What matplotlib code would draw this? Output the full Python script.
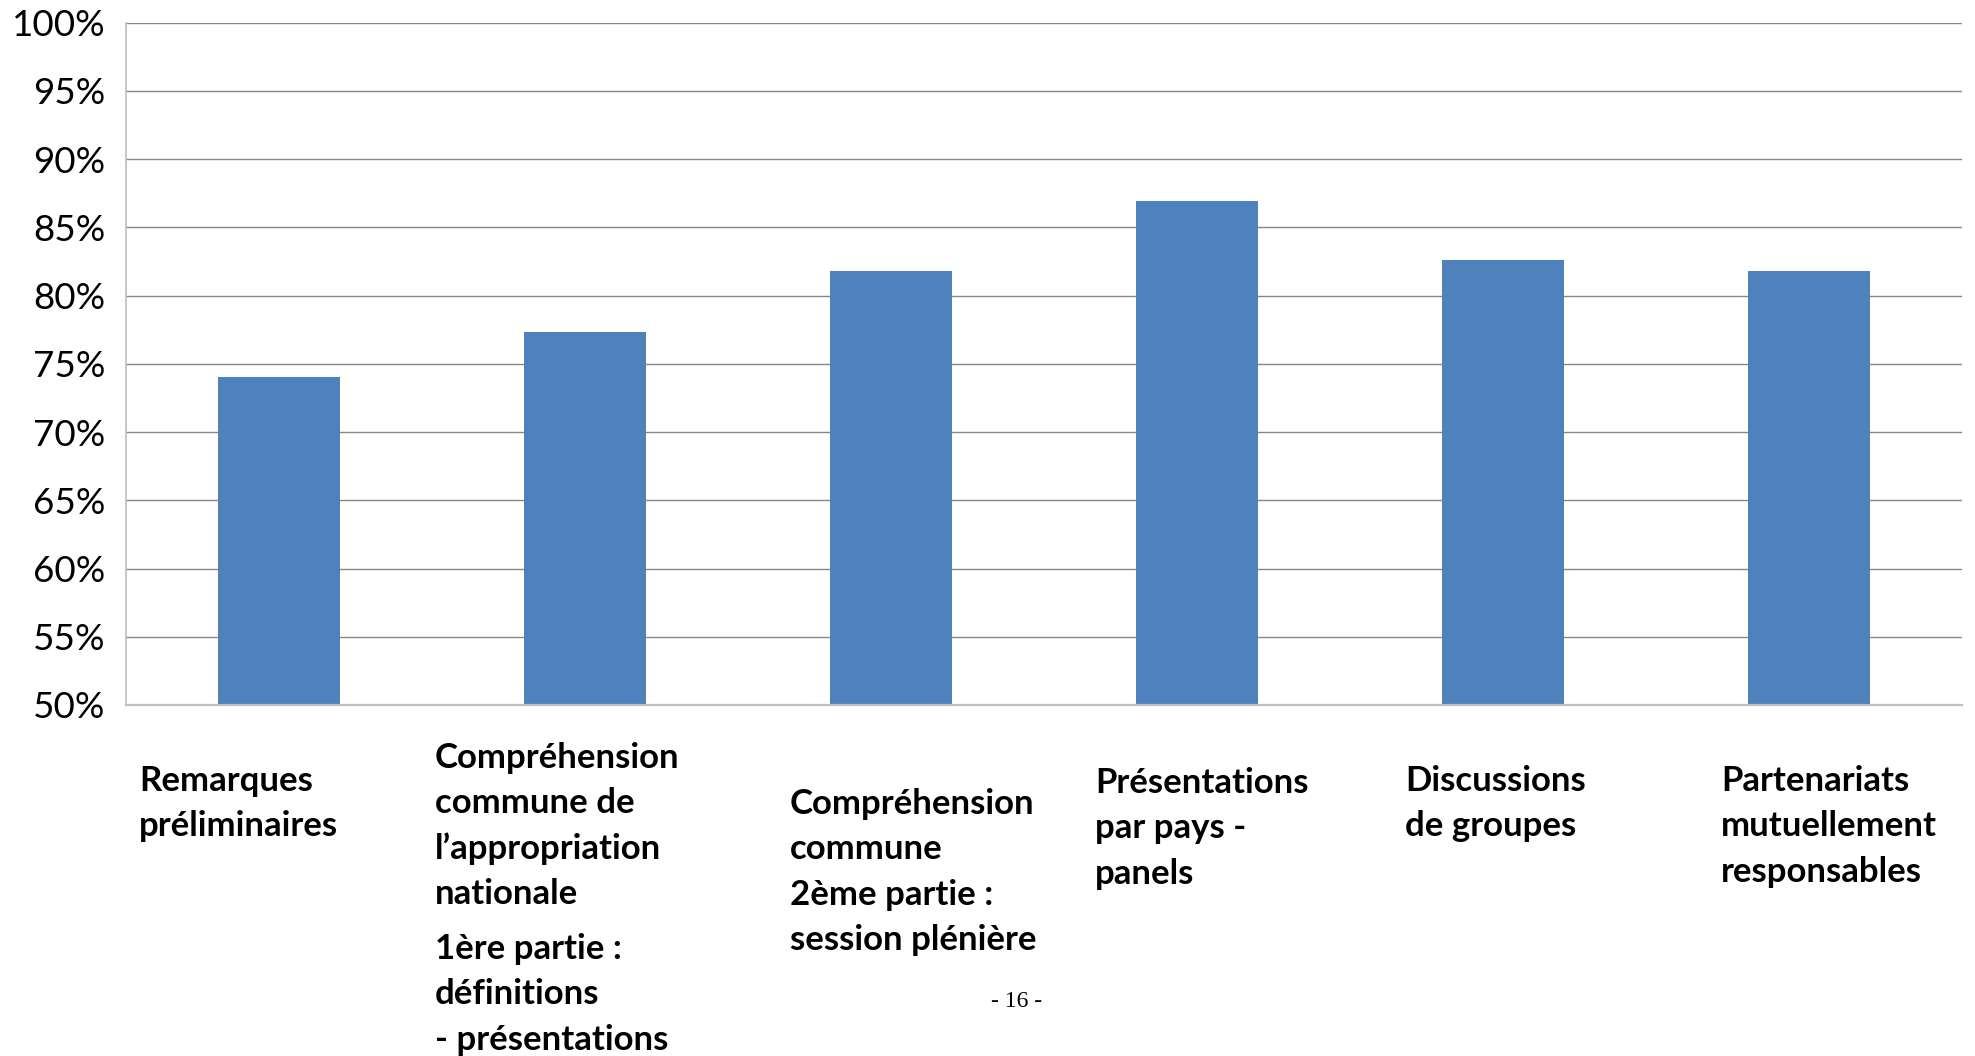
import matplotlib

matplotlib.use("Agg")
import matplotlib.pyplot as plt
from matplotlib.ticker import FixedLocator, FuncFormatter

W, H = 1975, 1056
DPI = 100

BAR = "#4F81BD"
GRID = "#878787"
AXIS = "#BEBEBE"

# data
categories = [
    ["Remarques", "préliminaires"],
    ["Compréhension", "commune de", "l’appropriation", "nationale",
     None, "1ère partie :", "définitions", "- présentations"],
    ["Compréhension", "commune", "2ème partie :", "session plénière"],
    ["Présentations", "par pays -", "panels"],
    ["Discussions", "de groupes"],
    ["Partenariats", "mutuellement", "responsables"],
]
values = [74.0, 77.3, 81.8, 86.9, 82.6, 81.8]
yticks = [50, 55, 60, 65, 70, 75, 80, 85, 90, 95, 100]

# label placement in pixels (left edge, first baseline)
label_x = [139, 435, 790, 1095, 1405, 1721]
label_y0 = [791, 768, 814, 793, 791, 791]
LINE = 45.3
PARA_GAP = 10

plt.rcParams["font.family"] = ["Lato", "DejaVu Sans"]

fig = plt.figure(figsize=(W / DPI, H / DPI), dpi=DPI)
left, right, top, bottom = 126, 1962, 22.7, 705
ax = fig.add_axes([left / W, 1 - bottom / H, (right - left) / W, (bottom - top) / H])

x = list(range(len(values)))
ax.bar(x, values, width=0.4, color=BAR, zorder=2)
ax.set_xlim(-0.5, len(values) - 0.5)
ax.set_ylim(50, 100)

ax.yaxis.set_major_locator(FixedLocator(yticks))
ax.yaxis.set_major_formatter(FuncFormatter(lambda v, p: f"{v:.0f}%"))
ax.grid(axis="y", color=GRID, lw=1.0, zorder=0)
ax.set_axisbelow(True)
ax.set_xticks([])
ax.tick_params(axis="y", length=0, pad=15, labelsize=26.5, labelcolor="black")

for s in ("top", "right"):
    ax.spines[s].set_visible(False)
ax.spines["left"].set_color(AXIS)
ax.spines["left"].set_linewidth(1.2)
ax.spines["bottom"].set_color(AXIS)
ax.spines["bottom"].set_linewidth(1.6)
ax.spines["bottom"].set_zorder(3)

# category labels, left aligned under each bar
for lines, lx, ly in zip(categories, label_x, label_y0):
    y = ly
    for ln in lines:
        if ln is None:
            y += PARA_GAP
            continue
        fig.text(lx / W, 1 - y / H, ln, ha="left", va="baseline",
                 fontsize=25, fontweight="bold", color="black")
        y += LINE

# page number of the source document
fig.text(1017 / W, 1 - 1007 / H, "- 16 -", ha="center", va="baseline",
         fontsize=17, family="Liberation Serif", color="black")

fig.savefig("out.png", dpi=DPI)
